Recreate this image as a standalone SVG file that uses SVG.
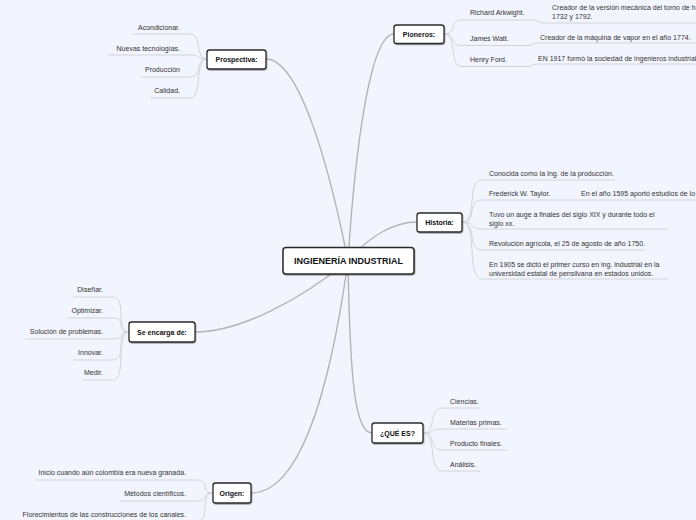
<svg xmlns="http://www.w3.org/2000/svg" width="696" height="520" viewBox="0 0 696 520">
<defs>
<filter id="sh" x="-10%" y="-20%" width="120%" height="150%">
<feDropShadow dx="0.6" dy="1" stdDeviation="0.7" flood-color="#000" flood-opacity="0.35"/>
</filter>
</defs>
<style>
.bg{fill:#f2f5fe}
.box{fill:#fff;stroke:#2a2a2a;stroke-width:1.3;filter:url(#sh)}
.root{fill:#fff;stroke:#2a2a2a;stroke-width:1.5;filter:url(#sh)}
.nt{font-family:"Liberation Sans",Arial,sans-serif;font-size:7px;font-weight:bold;fill:#111;text-anchor:middle}
.rt{font-family:"Liberation Sans",Arial,sans-serif;font-size:9px;font-weight:bold;fill:#111;text-anchor:middle}
.t{font-family:"Liberation Sans",Arial,sans-serif;font-size:7px;fill:#333}
.tr{text-anchor:end}
.main{fill:none;stroke:#b4b4b4;stroke-width:1.4}
.sub{fill:none;stroke:#d2d4da;stroke-width:1}
</style>
<rect class="bg" x="0" y="0" width="696" height="520"/>

<g id="connectors">
<path class="main" d="M348 261 C330 170 300 59 266 59"/>
<path class="main" d="M348 261 C355 150 370 34 394 34"/>
<path class="main" d="M348 261 C370 235 395 222 417 222"/>
<path class="main" d="M348 261 C300 300 240 332 195 332"/>
<path class="main" d="M348 261 C350 380 355 433 372 433"/>
<path class="main" d="M348 261 C330 390 300 493 251 493"/>
<path class="sub" d="M207 59 C194 59 203 34 190 34 L133 34"/>
<path class="sub" d="M207 59 C194 59 203 55 190 55 L108 55"/>
<path class="sub" d="M207 59 C194 59 203 77 190 77 L141 77"/>
<path class="sub" d="M207 59 C194 59 203 98 190 98 L150 98"/>
<path class="sub" d="M444 34 C458 34 448 20 462 20 L533 20 C538 20 538 23 543 23 L696 23"/>
<path class="sub" d="M444 34 C458 34 448 45.5 462 45.5 L528 45.5 C533 45.5 533 43 538 43 L696 43"/>
<path class="sub" d="M444 34 C458 34 448 66.5 462 66.5 L527 66.5 C532 66.5 532 64 537 64 L696 64"/>
<path class="sub" d="M462 222 C478 222 466 180 482 180 L615 180"/>
<path class="sub" d="M462 222 C478 222 466 200 482 200 L696 200"/>
<path class="sub" d="M462 222 C478 222 466 229 482 229 L668 229"/>
<path class="sub" d="M462 222 C478 222 466 250 482 250 L645 250"/>
<path class="sub" d="M462 222 C478 222 466 279 482 279 L668 279"/>
<path class="sub" d="M129 332 C115 332 127 297 113 297 L73 297"/>
<path class="sub" d="M129 332 C115 332 127 318 113 318 L67 318"/>
<path class="sub" d="M129 332 C115 332 127 339 113 339 L25 339"/>
<path class="sub" d="M129 332 C115 332 127 360 113 360 L73 360"/>
<path class="sub" d="M129 332 C115 332 127 380 113 380 L83 380"/>
<path class="sub" d="M423 433 C437 433 428 408 442 408 L480 408"/>
<path class="sub" d="M423 433 C437 433 428 429 442 429 L507 429"/>
<path class="sub" d="M423 433 C437 433 428 450 442 450 L507 450"/>
<path class="sub" d="M423 433 C437 433 428 471 442 471 L480 471"/>
<path class="sub" d="M213 493 C199 493 211 480 197 480 L35 480"/>
<path class="sub" d="M213 493 C199 493 211 501 197 501 L120 501"/>
<path class="sub" d="M213 493 C199 493 211 521 197 521 L18 521"/>
</g>

<g id="root">
<rect class="root" x="283" y="247.5" width="131" height="26.5" rx="3"/>
<text class="rt" x="348.5" y="264">INGIENERÍA INDUSTRIAL</text>
</g>

<g id="prospectiva">
<rect class="box" x="207" y="50" width="59" height="19" rx="2.5"/>
<text class="nt" x="236.5" y="62">Prospectiva:</text>
<text class="t tr" x="180" y="29.5">Acondicionar.</text>
<text class="t tr" x="180" y="50.5">Nuevas tecnologías.</text>
<text class="t tr" x="180" y="72">Producción</text>
<text class="t tr" x="180" y="93">Calidad.</text>
</g>

<g id="pioneros">
<rect class="box" x="394" y="25" width="50" height="18.5" rx="2.5"/>
<text class="nt" x="419" y="36.5">Pioneros:</text>
<text class="t" x="470" y="14.5">Richard Arkwight.</text>
<text class="t" x="552" y="9.5">Creador de la versión mecánica del torno de h</text>
<text class="t" x="552" y="18.5">1732 y 1792.</text>
<text class="t" x="470" y="40.5">James Watt.</text>
<text class="t" x="540" y="39.5">Creador de la máquina de vapor en el año 1774.</text>
<text class="t" x="470" y="61.5">Henry Ford.</text>
<text class="t" x="538" y="60.5">EN 1917 formó la sociedad de ingenieros industrial</text>
</g>

<g id="historia">
<rect class="box" x="417" y="213" width="45" height="19" rx="2.5"/>
<text class="nt" x="439.5" y="225">Historia:</text>
<text class="t" x="489" y="175.5">Conocida como la Ing. de la producción.</text>
<text class="t" x="489" y="195.5">Frederick W. Taylor.</text>
<text class="t" x="581" y="195.5">En el año 1595 aportó estudios de lo</text>
<text class="t" x="489" y="216.5">Tuvo un auge a finales del siglo XIX y durante todo el</text>
<text class="t" x="489" y="225.5">siglo xx.</text>
<text class="t" x="489" y="245.5">Revolución agrícola, el 25 de agosto de año 1750.</text>
<text class="t" x="489" y="266.5">En 1905 se dictó el primer curso en ing. industrial en la</text>
<text class="t" x="489" y="275.5">universidad estatal de pensilvana en estados unidos.</text>
</g>

<g id="se-encarga">
<rect class="box" x="129" y="322" width="66" height="20" rx="2.5"/>
<text class="nt" x="162" y="334.5">Se encarga de:</text>
<text class="t tr" x="103" y="292">Diseñar.</text>
<text class="t tr" x="103" y="313">Optimizar.</text>
<text class="t tr" x="103" y="334">Solución de problemas.</text>
<text class="t tr" x="103" y="354.5">Innovar.</text>
<text class="t tr" x="103" y="375">Medir.</text>
</g>

<g id="que-es">
<rect class="box" x="372" y="423" width="51" height="20" rx="2.5"/>
<text class="nt" x="397.5" y="435.5">¿QUÉ ES?</text>
<text class="t" x="450" y="404">Ciencias.</text>
<text class="t" x="450" y="425">Materias primas.</text>
<text class="t" x="450" y="446">Producto finales.</text>
<text class="t" x="450" y="467">Análisis.</text>
</g>

<g id="origen">
<rect class="box" x="213" y="483" width="38" height="20" rx="2.5"/>
<text class="nt" x="232" y="495.5">Origen:</text>
<text class="t tr" x="186" y="475">Inicio cuando aún colombia era nueva granada.</text>
<text class="t tr" x="186" y="496">Métodos científicos.</text>
<text class="t tr" x="186" y="516.5">Florecimientos de las construcciones de los canales.</text>
</g>
</svg>
